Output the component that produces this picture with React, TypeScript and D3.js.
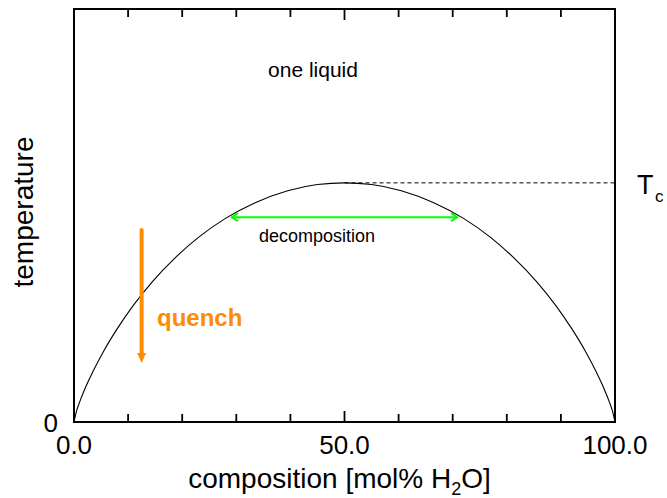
import React from "react";
import * as d3 from "d3";

// Binodal (miscibility gap) curve
const composition = [0, 0.5, 1, 2, 3.5, 5.5, 8, 11, 14.5, 18.5, 23, 28, 33.5, 39.5, 45, 50, 55, 60.5, 66.5, 72, 77, 81.5, 85.5, 89, 92, 94.5, 96.5, 98, 99, 99.5, 100];
const temperature = [0, 0.028, 0.047, 0.08, 0.122, 0.172, 0.226, 0.283, 0.34, 0.395, 0.447, 0.493, 0.531, 0.56, 0.575, 0.579, 0.575, 0.56, 0.531, 0.493, 0.447, 0.395, 0.34, 0.283, 0.226, 0.172, 0.122, 0.08, 0.047, 0.028, 0];

const xTicks = [0, 10, 20, 30, 40, 50, 60, 70, 80, 90, 100];
const xTickLabels = ["0.0", "50.0", "100.0"];
const xLabelValues = [0, 50, 100];

const criticalT = 0.579;
const criticalX = 50;
const decompositionX = [29, 71];
const decompositionT = 0.496;
const quenchX = 12.5;
const quenchT = [0.465, 0.143];

const W = 667;
const H = 498;
const left = 74;
const right = 615;
const top = 9;
const bottom = 422;

export default function App() {
  const x = d3.scaleLinear().domain([0, 100]).range([left, right]);
  const y = d3.scaleLinear().domain([0, 1]).range([bottom, top]);
  const pts: [number, number][] = composition.map((c, i) => [c, temperature[i]]);
  const line = d3
    .line<[number, number]>()
    .x((d) => x(d[0]))
    .y((d) => y(d[1]))
    .curve(d3.curveMonotoneX);

  const font = "Liberation Sans, Arial, Helvetica, sans-serif";
  const orange = "#ff8c00";
  const green = "#00ff00";
  const gy = y(decompositionT);
  const gx0 = x(decompositionX[0]);
  const gx1 = x(decompositionX[1]);
  const qx = x(quenchX);
  const qy0 = y(quenchT[0]);
  const qy1 = y(quenchT[1]);

  return (
    <svg width={W} height={H} style={{ position: "absolute", left: 0, top: 0 }} fontFamily={font}>
      <rect x={0} y={0} width={W} height={H} fill="white" />
      {/* curve */}
      <path d={line(pts) || ""} fill="none" stroke="black" strokeWidth={1.1} />
      {/* critical temperature dashed line */}
      <line x1={x(criticalX)} x2={right} y1={y(criticalT)} y2={y(criticalT)} stroke="black" strokeWidth={1} strokeDasharray="4,3" />
      {/* frame */}
      <rect x={left} y={top} width={right - left} height={bottom - top} fill="none" stroke="black" strokeWidth={2} />
      {/* ticks */}
      {xTicks.map((t) => {
        const len = t === 50 ? 11 : 8;
        if (t === 0 || t === 100) return null;
        return (
          <g key={t}>
            <line x1={x(t)} x2={x(t)} y1={bottom} y2={bottom - len} stroke="black" strokeWidth={1.8} />
            <line x1={x(t)} x2={x(t)} y1={top} y2={top + len} stroke="black" strokeWidth={1.8} />
          </g>
        );
      })}
      {xLabelValues.map((v, i) => (
        <text key={v} x={x(v)} y={454} textAnchor="middle" fontSize={26}>
          {xTickLabels[i]}
        </text>
      ))}
      <text x={58} y={432} textAnchor="end" fontSize={26}>0</text>
      {/* axis titles */}
      <text x={(left + right) / 2 - 5} y={488} textAnchor="middle" fontSize={28}>
        composition [mol% H<tspan fontSize={18} dy={7}>2</tspan><tspan dy={-7}>O]</tspan>
      </text>
      <text transform={`translate(33,212) rotate(-90)`} textAnchor="middle" fontSize={28}>
        temperature
      </text>
      {/* Tc */}
      <text x={637} y={194} fontSize={27}>T</text>
      <text x={655} y={202} fontSize={17}>c</text>
      {/* annotations */}
      <text x={313} y={77} textAnchor="middle" fontSize={21}>one liquid</text>
      <text x={317} y={242} textAnchor="middle" fontSize={18}>decomposition</text>
      <text x={157} y={326} fontSize={24} fontWeight="bold" fill={orange}>quench</text>
      {/* green double arrow */}
      <line x1={gx0 + 1} x2={gx1 - 1} y1={gy} y2={gy} stroke={green} strokeWidth={2} />
      <path d={`M${gx0 + 7},${gy - 4} L${gx0 + 1},${gy} L${gx0 + 7},${gy + 4}`} fill="none" stroke={green} strokeWidth={2} />
      <path d={`M${gx1 - 7},${gy - 4} L${gx1 - 1},${gy} L${gx1 - 7},${gy + 4}`} fill="none" stroke={green} strokeWidth={2} />
      {/* orange quench arrow */}
      <line x1={qx} x2={qx} y1={qy0} y2={qy1 - 9} stroke={orange} strokeWidth={4} strokeLinecap="round" />
      <path d={`M${qx - 4.5},${qy1 - 10} L${qx + 4.5},${qy1 - 10} L${qx},${qy1} Z`} fill={orange} />
    </svg>
  );
}
